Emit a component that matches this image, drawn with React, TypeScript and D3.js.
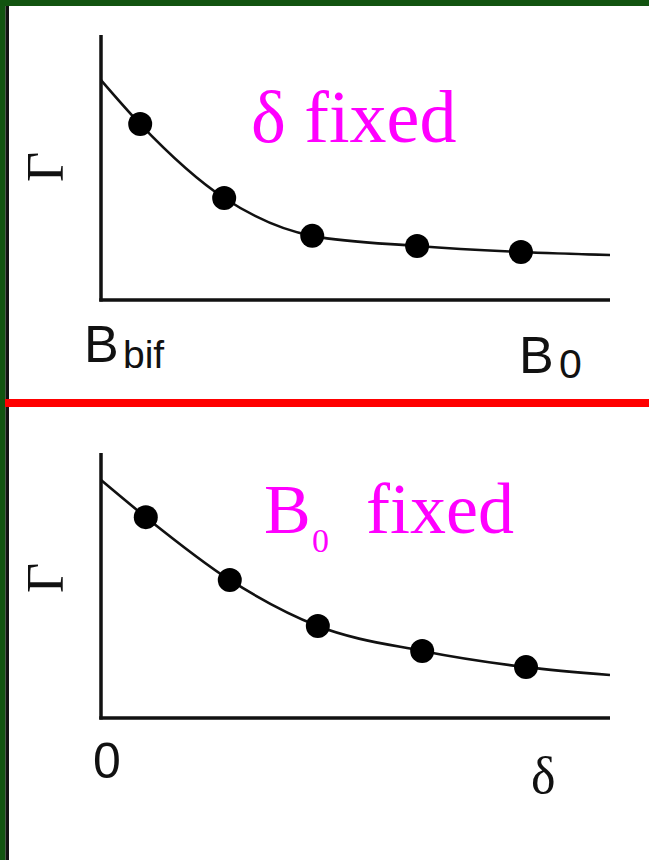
import React from "react";
import * as d3 from "d3";

// Top panel (δ fixed): Γ vs B
const topDotX = [0.77, 2.42, 4.15, 6.21, 8.25];
const topDotY = [6.64, 3.85, 2.42, 2.04, 1.81];
const topCurveX = [0, 0.77, 2.42, 4.15, 6.21, 8.25, 10];
const topCurveY = [8.3, 6.64, 3.85, 2.42, 2.04, 1.81, 1.7];

// Bottom panel (B0 fixed): Γ vs δ
const botDotX = [0.88, 2.53, 4.26, 6.31, 8.35];
const botDotY = [7.58, 5.21, 3.47, 2.53, 1.92];
const botCurveX = [0, 0.88, 2.53, 4.26, 6.31, 8.35, 10];
const botCurveY = [8.98, 7.58, 5.21, 3.47, 2.53, 1.92, 1.62];

const SERIF = "'Liberation Serif', 'Times New Roman', serif";
const SANS = "'Liberation Sans', Arial, sans-serif";
const MAGENTA = "#ff00ff";

const x = d3.scaleLinear().domain([0, 10]).range([101, 610]);

function Panel({ y0, y1, cx, cy, dx, dy }: any) {
  const y = d3.scaleLinear().domain([0, 10]).range([y0, y1]);
  const line = d3
    .line<number>()
    .x((_, i) => x(cx[i]))
    .y((d) => y(d))
    .curve(d3.curveMonotoneX);
  return (
    <g>
      <line x1={x(0)} x2={x(0)} y1={y(10)} y2={y(0) + 1.5} stroke="#111" strokeWidth={3.5} />
      <line x1={x(0) - 1.7} x2={x(10)} y1={y(0)} y2={y(0)} stroke="#111" strokeWidth={3.5} />
      <path d={line(cy) || ""} fill="none" stroke="#111" strokeWidth={2.6} />
      {dx.map((v: number, i: number) => (
        <circle key={i} cx={x(v)} cy={y(dy[i])} r={12} fill="#000" />
      ))}
    </g>
  );
}

export default function App() {
  return (
    <svg
      width={649}
      height={860}
      style={{ position: "absolute", left: 0, top: 0, background: "#fff" }}
    >
      <rect x={0} y={0} width={649} height={860} fill="#fff" />
      {/* frame */}
      <rect x={0} y={0} width={649} height={6} fill="#125410" />
      <rect x={0} y={0} width={5.5} height={860} fill="#125410" />
      <rect x={5.5} y={6} width={3.5} height={854} fill="#111" />
      <rect x={5} y={399} width={644} height={8} fill="#ff0000" />

      <Panel y0={300} y1={35} cx={topCurveX} cy={topCurveY} dx={topDotX} dy={topDotY} />
      <Panel y0={718} y1={453} cx={botCurveX} cy={botCurveY} dx={botDotX} dy={botDotY} />

      {/* Γ labels */}
      <text transform="translate(63,167) rotate(-90)" textAnchor="middle" fontFamily={SERIF} fontSize={52} fill="#111">Γ</text>
      <text transform="translate(63,578) rotate(-90)" textAnchor="middle" fontFamily={SERIF} fontSize={52} fill="#111">Γ</text>

      {/* panel titles */}
      <text x={251} y={142} fontFamily={SERIF} fontSize={74} fill={MAGENTA}>δ fixed</text>
      <text fontFamily={SERIF} fill={MAGENTA}>
        <tspan x={264} y={533} fontSize={70}>B</tspan>
        <tspan x={312} y={552} fontSize={34}>0</tspan>
        <tspan x={366} y={533} fontSize={72}>fixed</tspan>
      </text>

      {/* x-axis end labels */}
      <text fontFamily={SANS} fill="#111">
        <tspan x={84} y={362} fontSize={52}>B</tspan>
        <tspan x={123} y={368} fontSize={39}>bif</tspan>
      </text>
      <text fontFamily={SANS} fill="#111">
        <tspan x={519} y={373} fontSize={52}>B</tspan>
        <tspan x={559} y={378} fontSize={41}>0</tspan>
      </text>
      <text x={93} y={778} fontFamily={SANS} fontSize={50} fill="#111">0</text>
      <text x={531} y={793} fontFamily={SERIF} fontSize={52} fill="#111">δ</text>
    </svg>
  );
}
